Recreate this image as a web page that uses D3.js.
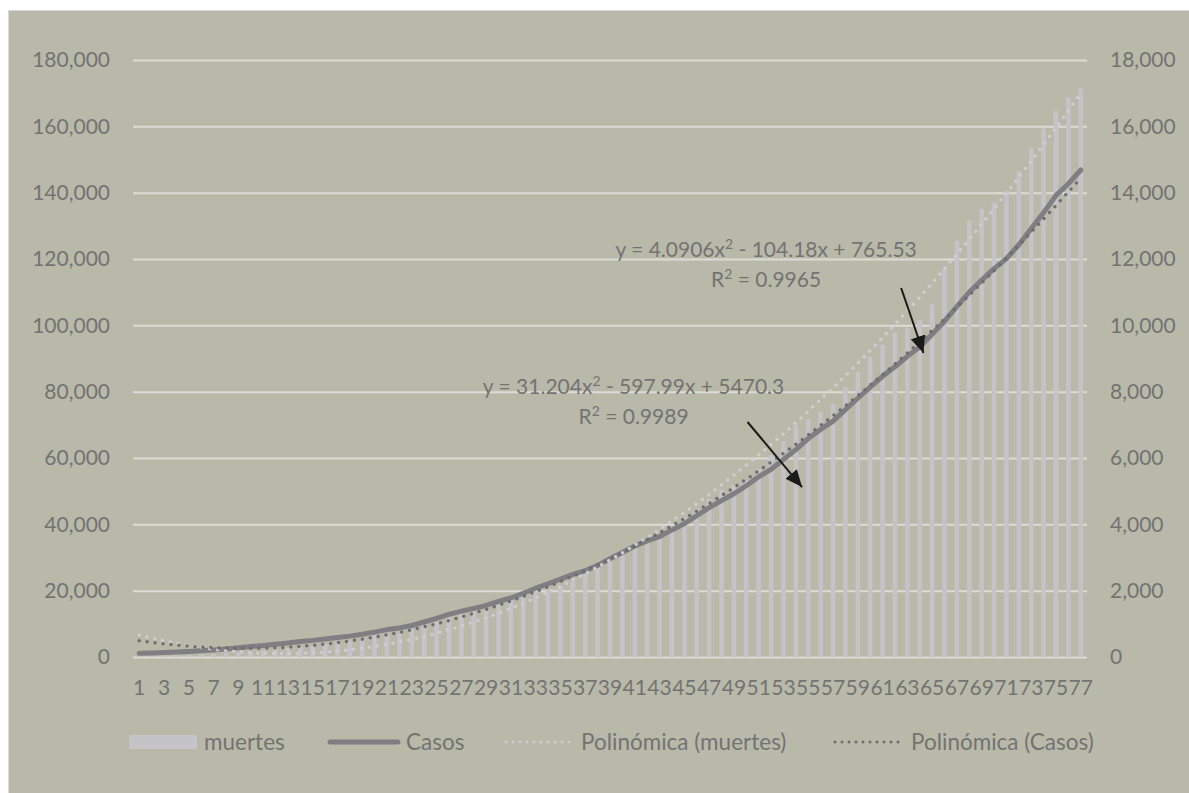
<!DOCTYPE html>
<html>
<head>
<meta charset="utf-8">
<script src="https://cdn.jsdelivr.net/npm/d3@7"></script>
<style>
  html, body { margin: 0; padding: 0; background: #ffffff; }
  svg { display: block; }
  text { font-family: Lato, "Open Sans", sans-serif; }
</style>
</head>
<body>
<svg id="chart" width="1189" height="793"></svg>
<script>
// ---- data ----
const days = d3.range(1, 78);
const casos = [1094,1215,1378,1510,1688,1890,2143,2439,2785,3181,3441,3844,4219,4661,5014,5399,5847,6297,6875,7497,8261,8772,9501,10544,11633,12872,13842,14677,15529,16752,17799,19224,20739,22088,23471,24905,26025,27634,29616,31522,33460,35022,36327,38324,40186,42595,45032,47144,49219,51633,54346,56594,59567,62527,65856,68620,71105,74560,78023,81400,84627,87512,90664,93435,97326,101238,105680,110026,113619,117103,120102,124301,129184,133974,139196,142690,146837];
const muertes = [28,29,37,50,60,79,94,125,141,174,194,233,273,296,332,406,449,486,546,650,686,712,857,970,1069,1221,1305,1351,1434,1569,1732,1859,1972,2061,2154,2271,2507,2704,2961,3160,3353,3465,3573,3926,4220,4477,4767,5045,5177,5332,5666,6090,6510,6989,7179,7394,7633,8134,8597,9044,9415,9779,9930,10167,10637,11729,12545,13170,13511,13699,14053,14649,15357,15944,16448,16872,17141];
const leftTicks = [0,20000,40000,60000,80000,100000,120000,140000,160000,180000];
const rightTicks = [0,2000,4000,6000,8000,10000,12000,14000,16000,18000];
const xTickLabels = days.filter(d => d % 2 === 1);
// trendline coefficients as shown in the chart: [c0, c1, c2]
const polyMuertes = [765.53, -104.18, 4.0906];
const polyCasos = [5470.3, -597.99, 31.204];
const eqMuertes = ["y = 4.0906x", "2", " - 104.18x + 765.53"];
const r2Muertes = "0.9965";
const eqCasos = ["y = 31.204x", "2", " - 597.99x + 5470.3"];
const r2Casos = "0.9989";
const legendLabels = ["muertes", "Casos", "Polinómica (muertes)", "Polinómica (Casos)"];
// annotations in data coordinates [day, leftAxisValue]
const eqMuertesPos = [51.6, 120600];
const eqCasosPos = [40.9, 79300];
const arrows = [
  { from: [62.5, 111250], to: [64.3, 91650] },
  { from: [50.1, 70850], to: [54.5, 51250] }
];

// ---- layout ----
const svg = d3.select("#chart");
const L = 133, R = 1087, T = 60, B = 657;
const bg = "#b9b9a9", grid = "#dcdcd6", txt = "#737373";
const barColor = "#c3c3c8", lineColor = "#7f7f83", polyLight = "#cdcdd2", polyDark = "#6e6e72";
const fs = 21;
const ff = "Lato, 'Open Sans', sans-serif";

svg.append("rect").attr("x", 8.5).attr("y", 10.5).attr("width", 1189).attr("height", 793)
  .attr("fill", bg).attr("stroke", "#d9d9d9").attr("stroke-width", 1);

const xb = d3.scaleBand().domain(days).range([L, R]).padding(0);
const cx = d => xb(d) + xb.bandwidth() / 2;
const xl = d3.scaleLinear().domain([1, 77]).range([cx(1), cx(77)]);
const yL = d3.scaleLinear().domain([0, 180000]).range([B, T]);
const yR = d3.scaleLinear().domain([0, 18000]).range([B, T]);

// left axis labels
const gL = svg.append("g").attr("transform", `translate(${L},0)`)
  .call(d3.axisLeft(yL).tickValues(leftTicks).tickSize(0).tickPadding(23).tickFormat(d3.format(",")));
gL.select(".domain").remove();
gL.selectAll("text").attr("fill", txt).style("font-size", fs + "px").style("font-family", ff);

// gridlines
const gGrid = svg.append("g").attr("transform", `translate(${L},0)`)
  .call(d3.axisLeft(yL).tickValues(leftTicks).tickSize(-(R - L)).tickFormat(""));
gGrid.select(".domain").remove();
gGrid.selectAll("line").attr("stroke", grid).attr("stroke-width", 2);

// right axis
const gR = svg.append("g").attr("transform", `translate(${R},0)`)
  .call(d3.axisRight(yR).tickValues(rightTicks).tickSize(0).tickPadding(23).tickFormat(d3.format(",")));
gR.select(".domain").remove();
gR.selectAll("text").attr("fill", txt).style("font-size", fs + "px").style("font-family", ff);

// x axis
const gX = svg.append("g").attr("transform", `translate(0,${B})`)
  .call(d3.axisBottom(xb).tickValues(xTickLabels).tickSize(0).tickPadding(23));
gX.select(".domain").remove();
gX.selectAll("text").attr("fill", txt).style("font-size", fs + "px").style("font-family", ff);

// bars (muertes, right axis)
const bw = 4.6;
svg.append("g").selectAll("rect").data(days).join("rect")
  .attr("x", d => cx(d) - bw / 2)
  .attr("width", bw)
  .attr("y", (d, i) => yR(muertes[i]))
  .attr("height", (d, i) => B - yR(muertes[i]))
  .attr("fill", barColor);

// casos line (left axis)
svg.append("path")
  .datum(days)
  .attr("fill", "none").attr("stroke", lineColor).attr("stroke-width", 5)
  .attr("stroke-linejoin", "round").attr("stroke-linecap", "round")
  .attr("d", d3.line().x(d => cx(d)).y((d, i) => yL(casos[i])));

// polynomial trendlines
const evalPoly = (c, x) => c[0] + c[1] * x + c[2] * x * x;
const fine = d3.range(1, 77.001, 0.25);
svg.append("path").datum(fine)
  .attr("fill", "none").attr("stroke", polyLight).attr("stroke-width", 3.5)
  .attr("stroke-linecap", "round").attr("stroke-dasharray", "0 8")
  .attr("d", d3.line().x(d => xl(d)).y(d => yR(evalPoly(polyMuertes, d))));
svg.append("path").datum(fine)
  .attr("fill", "none").attr("stroke", polyDark).attr("stroke-width", 3.5)
  .attr("stroke-linecap", "round").attr("stroke-dasharray", "0 8")
  .attr("d", d3.line().x(d => xl(d)).y(d => yL(evalPoly(polyCasos, d))));

// equation labels
function eqLabel(pos, eq, r2) {
  const x = xl(pos[0]), y = yL(pos[1]);
  const t1 = svg.append("text").attr("x", x).attr("y", y).attr("text-anchor", "middle")
    .attr("fill", txt).style("font-size", fs + "px");
  t1.append("tspan").text(eq[0]);
  t1.append("tspan").attr("dy", -8).style("font-size", "14px").text(eq[1]);
  t1.append("tspan").attr("dy", 8).text(eq[2]);
  const t2 = svg.append("text").attr("x", x).attr("y", y + 30).attr("text-anchor", "middle")
    .attr("fill", txt).style("font-size", fs + "px");
  t2.append("tspan").text("R");
  t2.append("tspan").attr("dy", -8).style("font-size", "14px").text("2");
  t2.append("tspan").attr("dy", 8).text(" = " + r2);
}
eqLabel(eqMuertesPos, eqMuertes, r2Muertes);
eqLabel(eqCasosPos, eqCasos, r2Casos);

// arrows
const defs = svg.append("defs");
defs.append("marker").attr("id", "ah").attr("markerUnits", "userSpaceOnUse")
  .attr("viewBox", "0 0 17 15").attr("refX", 17).attr("refY", 7.5)
  .attr("markerWidth", 17).attr("markerHeight", 15).attr("orient", "auto")
  .append("path").attr("d", "M0,0 L17,7.5 L0,15 Z").attr("fill", "#1a1a1a");
svg.append("g").selectAll("line").data(arrows).join("line")
  .attr("x1", d => xl(d.from[0])).attr("y1", d => yL(d.from[1]))
  .attr("x2", d => xl(d.to[0])).attr("y2", d => yL(d.to[1]))
  .attr("stroke", "#1a1a1a").attr("stroke-width", 2)
  .attr("marker-end", "url(#ah)");

// legend
const ly = 742;
const lg = svg.append("g");
lg.append("rect").attr("x", 129).attr("y", ly - 7).attr("width", 68).attr("height", 14).attr("fill", barColor);
lg.append("line").attr("x1", 330).attr("x2", 398).attr("y1", ly).attr("y2", ly)
  .attr("stroke", lineColor).attr("stroke-width", 5).attr("stroke-linecap", "round");
lg.append("line").attr("x1", 506).attr("x2", 574).attr("y1", ly).attr("y2", ly)
  .attr("stroke", polyLight).attr("stroke-width", 3).attr("stroke-linecap", "round").attr("stroke-dasharray", "0 7");
lg.append("line").attr("x1", 835).attr("x2", 903).attr("y1", ly).attr("y2", ly)
  .attr("stroke", polyDark).attr("stroke-width", 3).attr("stroke-linecap", "round").attr("stroke-dasharray", "0 7");
const lx = [204, 406, 581, 911];
lg.selectAll("text.leg").data(legendLabels).join("text").attr("class", "leg")
  .attr("x", (d, i) => lx[i]).attr("y", ly).attr("dy", "0.35em")
  .attr("fill", txt).style("font-size", "22.5px").text(d => d);
</script>
</body>
</html>
